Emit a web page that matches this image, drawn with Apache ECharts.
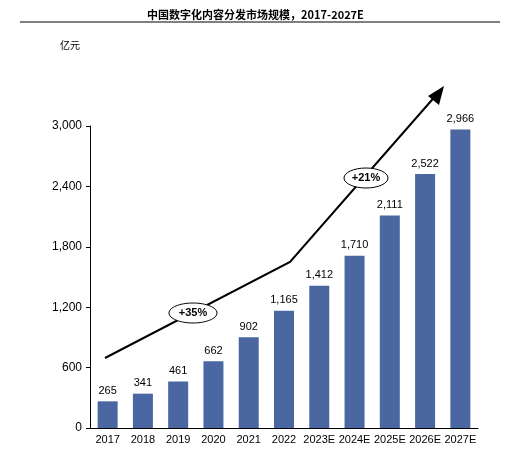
<!DOCTYPE html>
<html><head><meta charset="utf-8">
<script src="https://cdn.jsdelivr.net/npm/echarts@6/dist/echarts.min.js"></script>
<style>html,body{margin:0;padding:0;background:#fff}#c{width:511px;height:458px}</style>
</head><body><div id="c"></div>
<script>
const categories=['2017','2018','2019','2020','2021','2022','2023E','2024E','2025E','2026E','2027E'];
const values=[265,341,461,662,902,1165,1412,1710,2111,2522,2966];
const yTicks=[0,600,1200,1800,2400,3000];
const chart=echarts.init(document.getElementById('c'));
chart.setOption({
  animation:false,
  title:{text:'中国数字化内容分发市场规模，2017-2027E',left:'center',top:4,
    textStyle:{fontSize:11,fontWeight:'bold',color:'#000',fontFamily:'Noto Sans CJK SC'}},
  grid:{left:90,right:33,top:126,bottom:30},
  xAxis:{type:'category',data:categories,
    axisLine:{lineStyle:{color:'#000'}},axisTick:{show:false},
    axisLabel:{color:'#000',fontSize:11,interval:0,margin:6,fontFamily:'Liberation Sans'}},
  yAxis:{type:'value',min:0,max:3000,interval:600,
    axisLine:{show:true,lineStyle:{color:'#000'}},axisTick:{show:true,inside:false,length:4,lineStyle:{color:'#000'}},
    splitLine:{show:false},
    axisLabel:{color:'#000',fontSize:12,fontFamily:'Liberation Sans',
      formatter:v=>yTicks.includes(v)?v.toLocaleString('en-US'):''}},
  series:[{type:'bar',data:values,barWidth:20,itemStyle:{color:'#4a67a1'},
    label:{show:true,position:'top',color:'#000',fontSize:11,fontFamily:'Liberation Sans',
      formatter:p=>p.value.toLocaleString('en-US')}}],
  graphic:[
    {type:'line',shape:{x1:20,y1:22,x2:500,y2:22},style:{stroke:'#000',lineWidth:1}},
    {type:'text',left:60,top:40,style:{text:'亿元',fontSize:10,fill:'#000',fontFamily:'Noto Sans CJK SC'}},
    {type:'polyline',shape:{points:[[105,358],[290,262],[438,93]]},style:{stroke:'#000',lineWidth:2,fill:null}},
    {type:'polygon',shape:{points:[[444,86],[428,96],[439,105]]},style:{fill:'#000'}},
    {type:'ellipse',shape:{cx:193,cy:313,rx:24,ry:10},style:{fill:'#fff',stroke:'#000',lineWidth:1}},
    {type:'text',x:193,y:313,style:{text:'+35%',fontSize:11,fontWeight:'bold',fill:'#000',align:'center',verticalAlign:'middle',fontFamily:'Liberation Sans'}},
    {type:'ellipse',shape:{cx:366,cy:178,rx:22,ry:10},style:{fill:'#fff',stroke:'#000',lineWidth:1}},
    {type:'text',x:366,y:178,style:{text:'+21%',fontSize:11,fontWeight:'bold',fill:'#000',align:'center',verticalAlign:'middle',fontFamily:'Liberation Sans'}}
  ]
});
</script></body></html>
